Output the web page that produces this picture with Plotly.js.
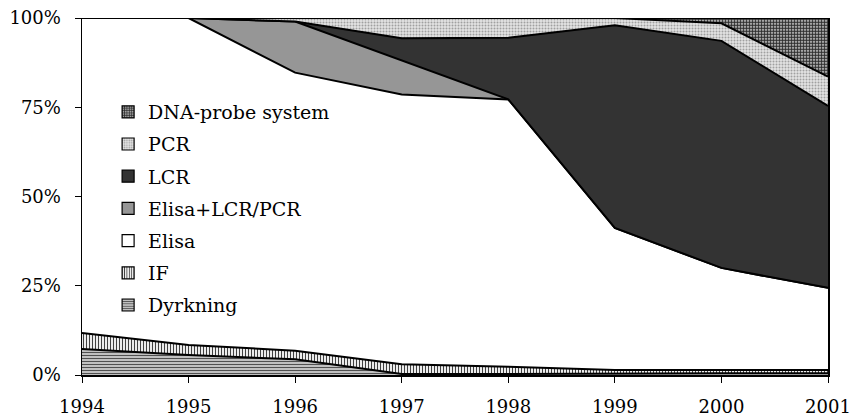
<!DOCTYPE html>
<html>
<head>
<meta charset="utf-8">
<script src="https://cdn.plot.ly/plotly-3.0.1.min.js"></script>
<style>
html,body{margin:0;padding:0;background:#fff;}
#chart{width:850px;height:417px;}
.legend .traces{opacity:1 !important;}
</style>
</head>
<body>
<div id="chart"></div>
<script>
// Data (percent shares), stacked bottom -> top
const years = [1994, 1995, 1996, 1997, 1998, 1999, 2000, 2001];
const dyrkning = [7.3, 5.6, 4.4, 0.3, 0.3, 0.5, 0.5, 0.5];
const ifTest   = [4.5, 2.8, 2.4, 2.7, 2.0, 0.9, 0.9, 0.9];
const elisa    = [88.2, 91.6, 77.9, 75.6, 74.9, 39.8, 28.6, 23.0];
const elisaLcrPcr = [0, 0, 14.3, 9.6, 0, 0, 0, 0];
const lcr      = [0, 0, 0, 6.1, 17.3, 56.8, 63.6, 51.0];
const pcr      = [0, 0, 1.0, 5.7, 5.5, 2.0, 4.9, 8.2];
const dnaProbe = [0, 0, 0, 0, 0, 0, 1.5, 16.4];
const seriesNames = ["Dyrkning", "IF", "Elisa", "Elisa+LCR/PCR", "LCR", "PCR", "DNA-probe system"];
const yTickVals = [0, 25, 50, 75, 100];
const yTickText = ["0%", "25%", "50%", "75%", "100%"];

const seriesValues = [dyrkning, ifTest, elisa, elisaLcrPcr, lcr, pcr, dnaProbe];
const styles = [
  {color: "#b8b8b8", pattern: {shape: "-", bgcolor: "#d8d8d8", fgcolor: "#505050", size: 3, solidity: 0.45}},
  {color: "#ffffff", pattern: {shape: "|", bgcolor: "#ffffff", fgcolor: "#404040", size: 3, solidity: 0.4}},
  {color: "#ffffff", pattern: null},
  {color: "#969696", pattern: null},
  {color: "#333333", pattern: null},
  {color: "#d4d4d4", pattern: {shape: ".", bgcolor: "#e4e4e4", fgcolor: "#a0a0a0", size: 3, solidity: 0.35}},
  {color: "#888888", pattern: {shape: ".", bgcolor: "#f0f0f0", fgcolor: "#303030", size: 3, solidity: 0.7}}
];

const traces = [];
seriesValues.forEach((vals, i) => {
  const t = {
    type: "scatter", x: years, y: vals, name: seriesNames[i],
    mode: "lines", stackgroup: "one", groupnorm: i === 0 ? "percent" : undefined,
    line: {color: "#000000", width: 2, shape: "linear"},
    fillcolor: styles[i].color, showlegend: false, hoverinfo: "skip"
  };
  if (styles[i].pattern) t.fillpattern = styles[i].pattern;
  traces.push(t);
});
// Legend swatches (legend only, no marks drawn), top entry first
for (let i = seriesNames.length - 1; i >= 0; i--) {
  const m = {color: styles[i].color, line: {color: "#000000", width: 1.2}};
  if (styles[i].pattern) m.pattern = {shape: styles[i].pattern.shape, bgcolor: styles[i].pattern.bgcolor,
    fgcolor: styles[i].pattern.fgcolor, size: 3, solidity: styles[i].pattern.solidity, fillmode: "replace"};
  traces.push({type: "bar", x: years, y: seriesValues[i], name: seriesNames[i], marker: m,
    legendgroup: "g" + i, showlegend: true, visible: "legendonly"});
}

const layout = {
  width: 850, height: 417,
  margin: {l: 82, r: 22, t: 18, b: 42},
  paper_bgcolor: "#ffffff", plot_bgcolor: "#ffffff",
  font: {family: "DejaVu Serif, serif", size: 18, color: "#000000"},
  showlegend: true,
  legend: {
    x: 0.035, y: 0.79, xanchor: "left", yanchor: "top",
    traceorder: "grouped", tracegroupgap: 4.5, itemwidth: 30,
    bgcolor: "rgba(0,0,0,0)", font: {size: 19, family: "DejaVu Serif, serif"}
  },
  xaxis: {
    range: [1994, 2001], tickmode: "array", tickvals: years, ticktext: years.map(String),
    showgrid: false, zeroline: false, showline: true, linecolor: "#000000", linewidth: 1.5,
    ticks: "outside", ticklen: 6, tickcolor: "#000000", tickwidth: 1,
    ticklabelstandoff: 9, ticklabeloverflow: "allow", tickfont: {size: 18}
  },
  yaxis: {
    range: [0, 100], tickmode: "array", tickvals: yTickVals, ticktext: yTickText,
    showgrid: false, zeroline: false, showline: true, mirror: true, linecolor: "#000000", linewidth: 1.5,
    ticks: "outside", ticklen: 6, tickcolor: "#000000", tickwidth: 1,
    ticklabelstandoff: 10, tickfont: {size: 18}
  },
  barmode: "overlay",
  hovermode: false
};

Plotly.newPlot("chart", traces, layout, {staticPlot: true, displayModeBar: false});
</script>
</body>
</html>
